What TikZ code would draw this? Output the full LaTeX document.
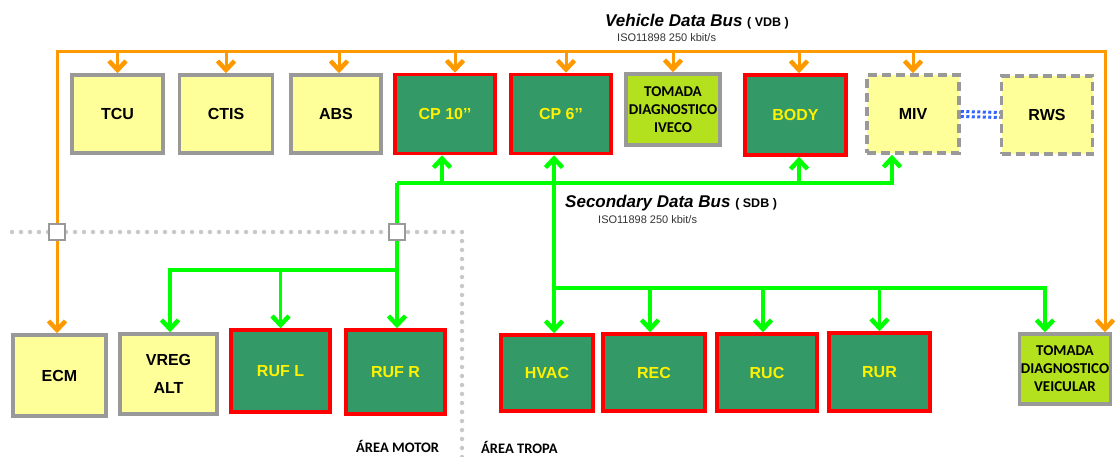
\documentclass[tikz,border=0pt]{standalone}
\usepackage{fontspec}
\setmainfont{Liberation Sans}
\newfontfamily\calibfont{Carlito}
\usetikzlibrary{arrows.meta}
\definecolor{vdbor}{HTML}{FF9900}
\definecolor{sdbgr}{HTML}{00FF00}
\definecolor{ecuyel}{HTML}{FFFF99}
\definecolor{ecugr}{HTML}{339966}
\definecolor{ecured}{HTML}{FF0000}
\definecolor{ecugray}{HTML}{999999}
\definecolor{diaglime}{HTML}{B3E11D}
\definecolor{ivblue}{HTML}{3366FF}
\definecolor{areagray}{HTML}{C8C8C8}
\definecolor{isogray}{HTML}{333333}
\tikzset{
  >={Straight Barb[length=9pt,width=17pt,line width=4.5pt]},
  ecu/.style={draw=ecugray,line width=3.5pt,fill=ecuyel,align=center,inner sep=0pt,
              font=\fontsize{16}{28}\selectfont\bfseries},
  master/.style={ecu,draw=ecured,fill=ecugr,text=yellow},
  diag/.style={ecu,fill=diaglime,font=\calibfont\fontsize{15}{18}\selectfont\bfseries},
  opt/.style={ecu,dash pattern=on 9pt off 5pt},
  vdb/.style={vdbor,line width=3pt,line join=miter},
  vdbarr/.style={vdb,->},
  vdbends/.style={vdb,<->},
  sdb/.style={sdbgr,line width=3.5pt,line join=miter},
  sdbarr/.style={sdb,->},
  joint/.style={draw=ecugray,line width=1.8pt,fill=white,minimum size=16pt,inner sep=0pt},
  area/.style={areagray,line width=4.5pt,line cap=round,dash pattern=on 0pt off 9pt},
  lbl/.style={anchor=west,inner sep=0pt}
}
\begin{document}
\begin{tikzpicture}[x=1pt,y=-1pt]
    \tikzset{title/.style={lbl,font=\fontsize{17}{20}\selectfont\bfseries\itshape},
             iso/.style={lbl,text=isogray,font=\fontsize{11}{13}\selectfont},
             ivbus/.style={ivblue,line width=3pt,dash pattern=on 3pt off 2.5pt}}
    \useasboundingbox (0,0) rectangle (1115,457);
    \node[ecu,minimum width=91,minimum height=78]     (tcu)  at (117.5,114) {TCU};
    \node[ecu,minimum width=93,minimum height=78]     (ctis) at (226,114)   {CTIS};
    \node[ecu,minimum width=90,minimum height=78]     (abs)  at (336,114)   {ABS};
    \node[master,minimum width=100,minimum height=79] (cp10) at (445,114)   {CP 10’’};
    \node[master,minimum width=100,minimum height=79] (cp6)  at (561,114)   {CP 6’’};
    \node[diag,minimum width=94,minimum height=71]    (tomiveco) at (673,109.5) {TOMADA\\DIAGNOSTICO\\IVECO};
    \node[master,minimum width=101,minimum height=80] (body) at (795.5,115) {BODY};
    \node[opt,minimum width=92,minimum height=78]     (miv)  at (913,114)   {MIV};
    \node[opt,minimum width=91,minimum height=78]     (rws)  at (1047,115)  {RWS};
    \node[ecu,minimum width=93,minimum height=81]     (ecm)  at (59.5,375.5) {ECM};
    \node[ecu,minimum width=97,minimum height=80]     (vreg) at (168.5,374) {VREG\\ALT};
    \node[master,minimum width=99,minimum height=82]  (rufl) at (280.5,371) {RUF L};
    \node[master,minimum width=99,minimum height=84]  (rufr) at (395.5,372) {RUF R};
    \node[master,minimum width=92,minimum height=76]  (hvac) at (547,373)   {HVAC};
    \node[master,minimum width=102,minimum height=77] (rec)  at (654,372.5) {REC};
    \node[master,minimum width=100,minimum height=77] (ruc)  at (767,372.5) {RUC};
    \node[master,minimum width=101,minimum height=78] (rur)  at (879.5,372) {RUR};
    \node[diag,minimum width=91,minimum height=70]    (tomveic) at (1065,369) {TOMADA\\DIAGNOSTICO\\VEICULAR};
    \node[title] (vdbt) at (605,22) {Vehicle Data Bus {\fontsize{12.5}{15}\selectfont\upshape ( VDB )}};
    \node[iso]   (vdbs) at (617,38) {ISO11898 250 kbit/s};
    \node[title] (sdbt) at (565,203) {Secondary Data Bus {\fontsize{12.5}{15}\selectfont\upshape ( SDB )}};
    \node[iso]   (sdbs) at (598,220) {ISO11898 250 kbit/s};
    \node[lbl,font=\calibfont\fontsize{14.5}{17}\selectfont\bfseries] (motor) at (356,446) {ÁREA MOTOR};
    \node[lbl,font=\calibfont\fontsize{14.5}{17}\selectfont\bfseries] (tropa) at (481,447) {ÁREA TROPA};
    \coordinate (areaW) at (12,232);
    \coordinate (areaC) at (462,232);
    \coordinate (areaS) at (462,460);
    \draw[area] (areaW) -- (areaC) -- (areaS);
    \draw[ivbus] ([yshift=2.5pt]miv.east) -- ([yshift=2.5pt]rws.west);
    \draw[ivbus] ([yshift=-2.5pt]miv.east) -- ([yshift=-2.5pt]rws.west);
    \coordinate (vdbW) at (57,52);
    \coordinate (vdbE) at (1105,52);
    \draw[vdbends] (vdbW |- ecm.north) -- (vdbW) -- (vdbE) -- (vdbE |- tomveic.north);
    \draw[vdbarr] (vdbW -| tcu.north) -- (tcu.north);
    \draw[vdbarr] (vdbW -| ctis.north) -- (ctis.north);
    \draw[vdbarr] (vdbW -| 339,0) -- (339,0 |- abs.north);
    \draw[vdbarr] (vdbW -| 455,0) -- (455,0 |- cp10.north);
    \draw[vdbarr] (vdbW -| 566,0) -- (566,0 |- cp6.north);
    \draw[vdbarr] (vdbW -| tomiveco.north) -- (tomiveco.north);
    \draw[vdbarr] (vdbW -| 799,0) -- (799,0 |- body.north);
    \draw[vdbarr] (vdbW -| miv.north) -- (miv.north);
    \coordinate (sdbW) at (397,183);
    \coordinate (sdbE) at (892,183);
    \draw[sdbarr] (sdbW) -- (sdbE) -- (sdbE |- miv.south);
    \draw[sdbarr] (sdbW -| 442,0) -- (442,0 |- cp10.south);
    \draw[sdbarr] (sdbW -| 554,0) -- (554,0 |- cp6.south);
    \draw[sdbarr] (sdbW -| 799,0) -- (799,0 |- body.south);
    \coordinate (motW) at (170,270);
    \coordinate (motE) at (397,270);
    \draw[sdbarr] (sdbW) -- (motE) -- (motE |- rufr.north);
    \draw[sdbarr] (motE) -- (motW) -- (motW |- vreg.north);
    \draw[sdbarr] (motE -| rufl.north) -- (rufl.north);
    \coordinate (tropW) at (554,288);
    \coordinate (tropE) at (1045,288);
    \draw[sdbarr] (sdbW -| tropW) -- (tropW |- hvac.north);
    \draw[sdbarr] (tropW) -- (tropE) -- (tropE |- tomveic.north);
    \draw[sdbarr] (tropW -| 650,0) -- (650,0 |- rec.north);
    \draw[sdbarr] (tropW -| 763,0) -- (763,0 |- ruc.north);
    \draw[sdbarr] (tropW -| rur.north) -- (rur.north);
    \node[joint] (jvdb) at (vdbW |- areaW) {};
    \node[joint] (jsdb) at (sdbW |- areaW) {};
\end{tikzpicture}
\end{document}
